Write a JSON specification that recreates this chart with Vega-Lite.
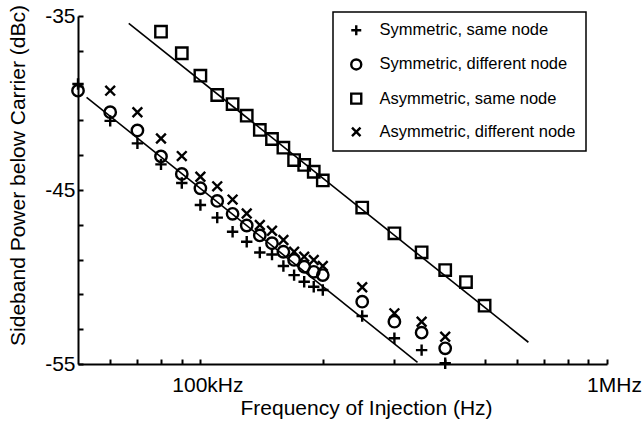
{
  "$schema": "https://vega.github.io/schema/vega-lite/v6.json",
  "width": 529,
  "height": 348,
  "autosize": {"type": "none"},
  "padding": {"left": 78, "top": 16, "right": 36, "bottom": 57},
  "background": "white",
  "config": {
    "view": {"stroke": null},
    "font": "Liberation Sans",
    "legend": {"strokeWidth": 1.5}
  },
  "datasets": {
    "pts": [
      {"series": "Symmetric, same node", "f": 50000, "db": -38.91},
      {"series": "Symmetric, same node", "f": 60000, "db": -41.03},
      {"series": "Symmetric, same node", "f": 70000, "db": -42.32},
      {"series": "Symmetric, same node", "f": 80000, "db": -43.53},
      {"series": "Symmetric, same node", "f": 90000, "db": -44.60},
      {"series": "Symmetric, same node", "f": 100000, "db": -45.86},
      {"series": "Symmetric, same node", "f": 110000, "db": -46.59},
      {"series": "Symmetric, same node", "f": 120000, "db": -47.40},
      {"series": "Symmetric, same node", "f": 130000, "db": -47.97},
      {"series": "Symmetric, same node", "f": 140000, "db": -48.59},
      {"series": "Symmetric, same node", "f": 150000, "db": -48.71},
      {"series": "Symmetric, same node", "f": 160000, "db": -49.37},
      {"series": "Symmetric, same node", "f": 170000, "db": -49.89},
      {"series": "Symmetric, same node", "f": 180000, "db": -50.27},
      {"series": "Symmetric, same node", "f": 190000, "db": -50.56},
      {"series": "Symmetric, same node", "f": 200000, "db": -50.75},
      {"series": "Symmetric, same node", "f": 250000, "db": -52.24},
      {"series": "Symmetric, same node", "f": 300000, "db": -53.52},
      {"series": "Symmetric, same node", "f": 350000, "db": -54.20},
      {"series": "Symmetric, same node", "f": 400000, "db": -54.96},
      {"series": "Symmetric, different node", "f": 50000, "db": -39.29},
      {"series": "Symmetric, different node", "f": 60000, "db": -40.53},
      {"series": "Symmetric, different node", "f": 70000, "db": -41.58},
      {"series": "Symmetric, different node", "f": 80000, "db": -43.07},
      {"series": "Symmetric, different node", "f": 90000, "db": -44.08},
      {"series": "Symmetric, different node", "f": 100000, "db": -44.90},
      {"series": "Symmetric, different node", "f": 110000, "db": -45.63},
      {"series": "Symmetric, different node", "f": 120000, "db": -46.37},
      {"series": "Symmetric, different node", "f": 130000, "db": -47.04},
      {"series": "Symmetric, different node", "f": 140000, "db": -47.61},
      {"series": "Symmetric, different node", "f": 150000, "db": -48.06},
      {"series": "Symmetric, different node", "f": 160000, "db": -48.55},
      {"series": "Symmetric, different node", "f": 170000, "db": -49.02},
      {"series": "Symmetric, different node", "f": 180000, "db": -49.41},
      {"series": "Symmetric, different node", "f": 190000, "db": -49.70},
      {"series": "Symmetric, different node", "f": 200000, "db": -49.89},
      {"series": "Symmetric, different node", "f": 250000, "db": -51.42},
      {"series": "Symmetric, different node", "f": 300000, "db": -52.57},
      {"series": "Symmetric, different node", "f": 350000, "db": -53.20},
      {"series": "Symmetric, different node", "f": 400000, "db": -54.10},
      {"series": "Asymmetric, same node", "f": 80000, "db": -35.90},
      {"series": "Asymmetric, same node", "f": 90000, "db": -37.14},
      {"series": "Asymmetric, same node", "f": 100000, "db": -38.43},
      {"series": "Asymmetric, same node", "f": 110000, "db": -39.54},
      {"series": "Asymmetric, same node", "f": 120000, "db": -40.06},
      {"series": "Asymmetric, same node", "f": 130000, "db": -40.73},
      {"series": "Asymmetric, same node", "f": 140000, "db": -41.55},
      {"series": "Asymmetric, same node", "f": 150000, "db": -42.07},
      {"series": "Asymmetric, same node", "f": 160000, "db": -42.57},
      {"series": "Asymmetric, same node", "f": 170000, "db": -43.28},
      {"series": "Asymmetric, same node", "f": 180000, "db": -43.56},
      {"series": "Asymmetric, same node", "f": 190000, "db": -43.95},
      {"series": "Asymmetric, same node", "f": 200000, "db": -44.45},
      {"series": "Asymmetric, same node", "f": 250000, "db": -46.01},
      {"series": "Asymmetric, same node", "f": 300000, "db": -47.49},
      {"series": "Asymmetric, same node", "f": 350000, "db": -48.58},
      {"series": "Asymmetric, same node", "f": 400000, "db": -49.60},
      {"series": "Asymmetric, same node", "f": 450000, "db": -50.29},
      {"series": "Asymmetric, same node", "f": 500000, "db": -51.65},
      {"series": "Asymmetric, different node", "f": 60000, "db": -39.29},
      {"series": "Asymmetric, different node", "f": 70000, "db": -40.53},
      {"series": "Asymmetric, different node", "f": 80000, "db": -42.04},
      {"series": "Asymmetric, different node", "f": 90000, "db": -43.05},
      {"series": "Asymmetric, different node", "f": 100000, "db": -44.24},
      {"series": "Asymmetric, different node", "f": 110000, "db": -44.79},
      {"series": "Asymmetric, different node", "f": 120000, "db": -45.55},
      {"series": "Asymmetric, different node", "f": 130000, "db": -46.35},
      {"series": "Asymmetric, different node", "f": 140000, "db": -47.01},
      {"series": "Asymmetric, different node", "f": 150000, "db": -47.34},
      {"series": "Asymmetric, different node", "f": 160000, "db": -47.87},
      {"series": "Asymmetric, different node", "f": 170000, "db": -48.55},
      {"series": "Asymmetric, different node", "f": 180000, "db": -48.83},
      {"series": "Asymmetric, different node", "f": 190000, "db": -49.02},
      {"series": "Asymmetric, different node", "f": 200000, "db": -49.37},
      {"series": "Asymmetric, different node", "f": 250000, "db": -50.59},
      {"series": "Asymmetric, different node", "f": 300000, "db": -52.09},
      {"series": "Asymmetric, different node", "f": 350000, "db": -52.57},
      {"series": "Asymmetric, different node", "f": 400000, "db": -53.43}
    ],
    "fits": [
      {"fit": "asym", "f": 66650, "db": -35.42},
      {"fit": "asym", "f": 640700, "db": -53.75},
      {"fit": "sym", "f": 52480, "db": -39.67},
      {"fit": "sym", "f": 341970, "db": -54.90}
    ]
  },
  "encoding": {
    "x": {
      "field": "f",
      "type": "quantitative",
      "scale": {"type": "log", "domain": [50000, 1000000], "nice": false},
      "axis": {
        "values": [60000, 70000, 80000, 90000, 100000, 200000, 300000, 400000, 500000, 600000, 700000, 800000, 900000, 1000000],
        "labelExpr": "datum.value == 100000 ? '100kHz' : (datum.value == 1000000 ? '1MHz' : '')",
        "title": "Frequency of Injection (Hz)",
        "grid": false,
        "tickSize": -5,
        "tickWidth": 2,
        "tickColor": "black",
        "domainColor": "black",
        "domainWidth": 2,
        "labelFontSize": 21,
        "labelColor": "black",
        "labelPadding": 15,
        "labelOffset": 7,
        "labelFlush": false,
        "labelOverlap": false,
        "labelBound": false,
        "titleFontSize": 21,
        "titleFontWeight": "normal",
        "titleColor": "black",
        "titleX": 288,
        "titleY": 44,
        "titleAlign": "center",
        "titleBaseline": "middle"
      }
    },
    "y": {
      "field": "db",
      "type": "quantitative",
      "scale": {"domain": [-55, -35], "nice": false, "zero": false},
      "axis": {
        "values": [-55, -53, -51, -49, -47, -45, -43, -41, -39, -37, -35],
        "labelExpr": "datum.value % 10 == -5 ? '' + datum.value : ''",
        "title": "Sideband Power below Carrier (dBc)",
        "grid": false,
        "tickSize": -5,
        "tickWidth": 2,
        "tickColor": "black",
        "domainColor": "black",
        "domainWidth": 2,
        "labelFontSize": 21,
        "labelColor": "black",
        "labelPadding": 8,
        "labelFlush": false,
        "labelOverlap": false,
        "labelBound": false,
        "titleFontSize": 21,
        "titleFontWeight": "normal",
        "titleColor": "black",
        "titleAngle": -90,
        "titleX": -60,
        "titleY": 159,
        "titleAlign": "center",
        "titleBaseline": "middle"
      }
    }
  },
  "layer": [
    {
      "data": {"name": "fits"},
      "mark": {"type": "line", "color": "black", "strokeWidth": 1.6},
      "encoding": {"detail": {"field": "fit", "type": "nominal"}}
    },
    {
      "data": {"name": "pts"},
      "mark": {"type": "point", "filled": false, "color": "black", "strokeWidth": 2.4, "size": 130, "opacity": 1},
      "encoding": {
        "shape": {
          "field": "series",
          "type": "nominal",
          "scale": {
            "domain": ["Symmetric, same node", "Symmetric, different node", "Asymmetric, same node", "Asymmetric, different node"],
            "range": ["M-1,0L1,0M0,-1L0,1", "circle", "square", "M-0.85,-0.85L0.85,0.85M-0.85,0.85L0.85,-0.85"]
          },
          "legend": {
            "orient": "none",
            "legendX": 255,
            "legendY": -4,
            "title": null,
            "strokeColor": "black",
            "fillColor": "white",
            "padding": 10,
            "labelFontSize": 16.5,
            "labelColor": "black",
            "labelLimit": 400,
            "symbolSize": 100,
            "symbolStrokeWidth": 2.4,
            "symbolStrokeColor": "black",
            "symbolOffset": 5,
            "labelOffset": 15,
            "rowPadding": 13.2
          }
        }
      }
    }
  ]
}
